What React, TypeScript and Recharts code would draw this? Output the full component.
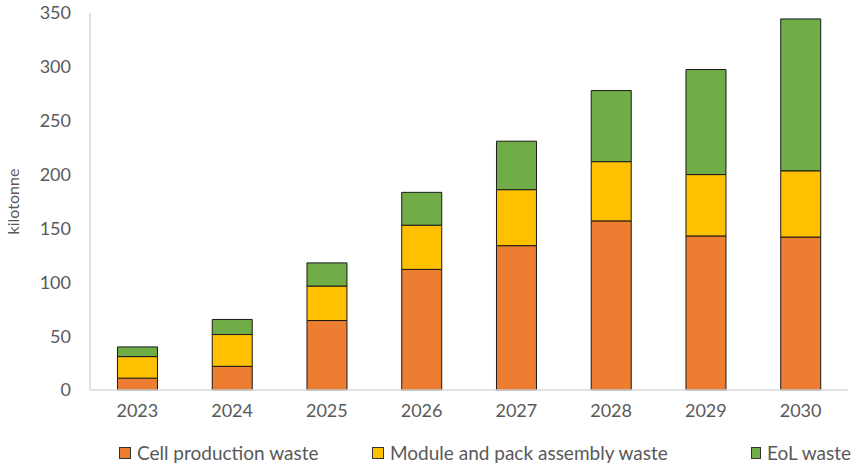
import React from 'react';
import { BarChart, Bar, XAxis, YAxis, Legend, Label } from 'recharts';

const years = ['2023', '2024', '2025', '2026', '2027', '2028', '2029', '2030'];
const cellWaste = [11, 22, 64.5, 112, 134, 157, 143, 142];
const moduleWaste = [20, 29.5, 32, 41, 52, 55, 57, 61.5];
const eolWaste = [9, 14, 21.5, 30.5, 45, 66, 97.5, 141];
const yTicks = [0, 50, 100, 150, 200, 250, 300, 350];
const seriesNames = ['Cell production waste', 'Module and pack assembly waste', 'EoL waste'];

const FONT = 'Lato, "Open Sans", sans-serif';
const TEXT = '#595959';
const AXIS = '#D9D9D9';

const chartData = years.map((year, i) => ({
  year,
  cell: cellWaste[i],
  module: moduleWaste[i],
  eol: eolWaste[i],
}));

// legend slot widths so the swatches land where the original's do
const legendSlots = [253, 379, 100];

// keep legend in series order (recharts sorts it otherwise)
const LegendContent = ({ payload }: any) => {
  const items = [...(payload || [])].sort(
    (a: any, b: any) => seriesNames.indexOf(a.value) - seriesNames.indexOf(b.value)
  );
  return (
    <div style={{ display: 'flex', paddingLeft: 99, fontFamily: FONT, fontSize: 19, color: TEXT }}>
      {items.map((entry: any, i: number) => (
        <div key={entry.value} style={{ display: 'flex', alignItems: 'center', width: legendSlots[i], flex: 'none' }}>
          <span
            style={{
              display: 'inline-block',
              width: 10,
              height: 10,
              background: entry.color,
              border: '1px solid #333',
              marginRight: 6,
            }}
          />
          <span style={{ whiteSpace: 'nowrap' }}>{entry.value}</span>
        </div>
      ))}
    </div>
  );
};

const App: React.FC = () => {
  return (
    <div style={{ position: 'absolute', left: 0, top: 0, background: '#fff' }}>
      <BarChart
        width={858}
        height={466}
        data={chartData}
        margin={{ top: 13, right: 10, bottom: 20, left: 20 }}
        barCategoryGap="29%"
      >
        <XAxis
          dataKey="year"
          stroke={AXIS}
          strokeWidth={1.5}
          tickLine={false}
          tickSize={0}
          tickMargin={14}
          height={32}
          tick={{ fill: TEXT, fontSize: 18, fontFamily: FONT }}
        />
        <YAxis
          domain={[0, 350]}
          ticks={yTicks}
          width={70}
          stroke={AXIS}
          strokeWidth={1.5}
          tickLine={false}
          tickSize={0}
          tickMargin={19}
          tick={{ fill: TEXT, fontSize: 18, fontFamily: FONT }}
        >
          <Label
            content={({ viewBox }: any) => {
              const cx = viewBox.x - 8;
              const cy = viewBox.y + viewBox.height / 2;
              return (
                <text
                  x={cx}
                  y={cy}
                  transform={`rotate(-90, ${cx}, ${cy})`}
                  textAnchor="middle"
                  dominantBaseline="central"
                  fill={TEXT}
                  fontSize={16}
                  fontFamily={FONT}
                >
                  kilotonne
                </text>
              );
            }}
          />
        </YAxis>
        <Legend verticalAlign="bottom" content={<LegendContent />} height={24} wrapperStyle={{ bottom: 1 }} />
        <Bar dataKey="cell" name="Cell production waste" stackId="a" fill="#ED7D31" stroke="#1a1a1a" strokeWidth={1} isAnimationActive={false} />
        <Bar dataKey="module" name="Module and pack assembly waste" stackId="a" fill="#FFC000" stroke="#1a1a1a" strokeWidth={1} isAnimationActive={false} />
        <Bar dataKey="eol" name="EoL waste" stackId="a" fill="#70AD47" stroke="#1a1a1a" strokeWidth={1} isAnimationActive={false} />
      </BarChart>
    </div>
  );
};

export default App;
